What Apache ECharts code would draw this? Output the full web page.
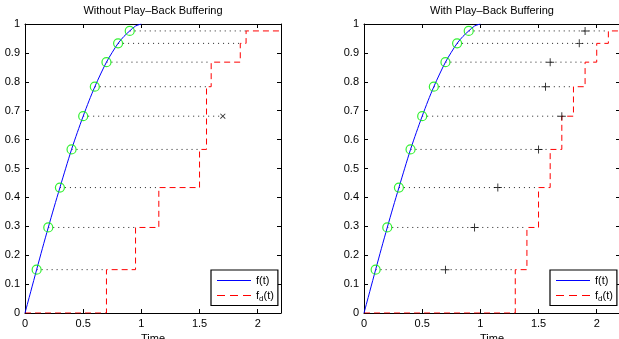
<!DOCTYPE html>
<html>
<head>
<meta charset="utf-8">
<script src="https://cdn.jsdelivr.net/npm/echarts@6/dist/echarts.min.js"></script>
<style>
  html, body { margin: 0; padding: 0; background: #fff; }
  #chart { width: 619px; height: 339px; }
</style>
</head>
<body>
<div id="chart"></div>
<script>
// tick positions
const xTicks = [0, 0.5, 1, 1.5, 2]
const yTicks = [0, 0.1, 0.2, 0.3, 0.4, 0.5, 0.6, 0.7, 0.8, 0.9, 1]

// f(t)
const curveT = [0, 0.05, 0.1, 0.15, 0.2, 0.25, 0.3, 0.35, 0.4, 0.45, 0.5, 0.55, 0.6, 0.65, 0.7, 0.75, 0.8, 0.85, 0.9, 0.95, 1]
const curveF = [0, 0.075, 0.150, 0.224, 0.296, 0.366, 0.434, 0.501, 0.566, 0.625, 0.681, 0.734, 0.783, 0.827, 0.868, 0.902, 0.933, 0.957, 0.976, 0.993, 1]

// sampled packets (green circles)
const sampleT = [0.1, 0.2, 0.3, 0.4, 0.5, 0.6, 0.7, 0.8, 0.9]
const sampleF = [0.150, 0.296, 0.434, 0.566, 0.681, 0.783, 0.868, 0.933, 0.976]

// arrival times (x / + markers)
const arrivalT = [0.70, 0.95, 1.15, 1.50, 1.70, 1.56, 1.60, 1.85, 1.90]

// play-out times of f_d(t)
const playNoBuf = [0.70, 0.95, 1.15, 1.50, 1.56, 1.56, 1.60, 1.85, 1.90]
const playBuf = [1.30, 1.40, 1.50, 1.60, 1.70, 1.80, 1.90, 2.00, 2.10]

// late packet without buffering
const lateT = [1.70]
const lateF = [0.681]

const titles = ['Without Play\u2013Back Buffering', 'With Play\u2013Back Buffering']
const tEnd = 2.2

const FONT = 'Liberation Sans, Arial, sans-serif'
const plusPath = 'path://M0,4.4H10V5.6H0Z M4.4,0H5.6V10H4.4Z'
const solidIcon = 'path://M0,0H34V1H0Z'
const dashIcon = 'path://M0,0H8V1H0Z M13,0H21V1H13Z M26,0H34V1H26Z'
const BLUE = '#0000ff'
const RED = '#ff0000'

const grids = [
  { left: 25, top: 24, width: 256, height: 289, outerBoundsMode: 'none' },
  { left: 364, top: 24, width: 256, height: 289, outerBoundsMode: 'none' },
]

function stepData(play) {
  const pts = [[0, 0]]
  let prev = 0
  play.forEach((p, i) => {
    pts.push([p, prev])
    pts.push([p, sampleF[i]])
    prev = sampleF[i]
  })
  pts.push([tEnd, prev])
  return pts
}

const xAxis = []
const yAxis = []
const series = []
const legend = []

grids.forEach((g, gi) => {
  xAxis.push({
    gridIndex: gi, type: 'value', min: 0, max: tEnd, position: 'bottom',
    axisLine: { show: true, onZero: false, lineStyle: { color: '#000', width: 1 } },
    axisTick: { show: true, inside: true, length: 4, customValues: xTicks, lineStyle: { color: '#000' } },
    axisLabel: { customValues: xTicks, color: '#000', fontSize: 11, fontFamily: FONT, margin: 5, formatter: v => String(v) },
    splitLine: { show: false },
    name: 'Time', nameLocation: 'middle', nameGap: 18,
    nameTextStyle: { color: '#000', fontSize: 11, fontFamily: FONT },
  })
  xAxis.push({
    gridIndex: gi, type: 'value', min: 0, max: tEnd, position: 'top',
    axisLine: { show: true, onZero: false, lineStyle: { color: '#000', width: 1 } },
    axisTick: { show: true, inside: true, length: 4, customValues: xTicks, lineStyle: { color: '#000' } },
    axisLabel: { show: false },
    splitLine: { show: false },
  })
  yAxis.push({
    gridIndex: gi, type: 'value', min: 0, max: 1, position: 'left',
    axisLine: { show: true, onZero: false, lineStyle: { color: '#000', width: 1 } },
    axisTick: { show: true, inside: true, length: 4, customValues: yTicks, lineStyle: { color: '#000' } },
    axisLabel: { customValues: yTicks, color: '#000', fontSize: 11, fontFamily: FONT, margin: 5, formatter: v => String(+v.toFixed(1)) },
    splitLine: { show: false },
  })
  yAxis.push({
    gridIndex: gi, type: 'value', min: 0, max: 1, position: 'right',
    axisLine: { show: true, onZero: false, lineStyle: { color: '#000', width: 1 } },
    axisTick: { show: true, inside: true, length: 4, customValues: yTicks, lineStyle: { color: '#000' } },
    axisLabel: { show: false },
    splitLine: { show: false },
  })

  const xi = gi * 2
  const yi = gi * 2
  const play = gi === 0 ? playNoBuf : playBuf

  // dotted guides from each sample to its arrival / play-out
  sampleF.forEach((f, i) => {
    series.push({
      type: 'line', name: 'guide', xAxisIndex: xi, yAxisIndex: yi,
      data: [[sampleT[i], f], [Math.max(arrivalT[i], play[i]), f]],
      symbol: 'none', silent: true, z: 1,
      lineStyle: { color: '#222', width: 1, type: [1, 4] },
    })
  })

  series.push({
    type: 'line', name: 'f(t)', xAxisIndex: xi, yAxisIndex: yi,
    data: curveT.map((t, i) => [t, curveF[i]]),
    symbol: 'none', smooth: 0.3, z: 3,
    lineStyle: { color: BLUE, width: 1 },
    itemStyle: { color: BLUE },
  })

  series.push({
    type: 'line', name: 'fd(t)', xAxisIndex: xi, yAxisIndex: yi,
    data: stepData(play),
    symbol: 'none', z: 2,
    lineStyle: { color: RED, width: 1, type: [6, 4] },
    itemStyle: { color: RED },
  })

  series.push({
    type: 'scatter', name: 'samples', xAxisIndex: xi, yAxisIndex: yi,
    data: sampleT.map((t, i) => [t, sampleF[i]]),
    symbol: 'circle', symbolSize: 9, z: 4,
    itemStyle: { color: 'rgba(0,0,0,0)', borderColor: '#00ee00', borderWidth: 1.2 },
  })

  if (gi === 0) {
    series.push({
      type: 'scatter', name: 'late', xAxisIndex: xi, yAxisIndex: yi,
      data: lateT.map((t, i) => [t, lateF[i]]),
      symbol: plusPath, symbolSize: 7, symbolRotate: 45, z: 5,
      itemStyle: { color: '#000' },
    })
  } else {
    series.push({
      type: 'scatter', name: 'arrivals', xAxisIndex: xi, yAxisIndex: yi,
      data: arrivalT.map((t, i) => [t, sampleF[i]]),
      symbol: plusPath, symbolSize: 8, z: 5,
      itemStyle: { color: '#000' },
    })
  }

  legend.push({
    data: [
      { name: 'f(t)', icon: solidIcon, itemStyle: { color: BLUE, borderWidth: 0 } },
      { name: 'fd(t)', icon: dashIcon, itemStyle: { color: RED, borderWidth: 0 } },
    ],
    orient: 'vertical',
    left: g.left + 186, top: 270,
    borderColor: '#000', borderWidth: 1.2, backgroundColor: '#fff',
    padding: [5, 4, 3, 6],
    itemWidth: 34, itemHeight: 1.2, itemGap: 4,
    selectedMode: false,
    textStyle: {
      color: '#000', fontSize: 11, fontFamily: FONT,
      rich: {
        n: { fontSize: 11, fontFamily: FONT, color: '#000' },
        s: { fontSize: 8, fontFamily: FONT, color: '#000', padding: [6, 0, 0, 0] },
      },
    },
    formatter: name => name === 'fd(t)' ? '{n|f}{s|d}{n|(t)}' : '{n|f(t)}',
  })
})

const chart = echarts.init(document.getElementById('chart'), null, { renderer: 'canvas' })
chart.setOption({
  animation: false,
  backgroundColor: '#fff',
  title: titles.map((t, i) => ({
    text: t,
    left: grids[i].left + grids[i].width / 2,
    top: 5,
    textAlign: 'center',
    padding: 0,
    textStyle: { color: '#000', fontSize: 11, fontWeight: 'normal', fontFamily: FONT },
  })),
  grid: grids,
  xAxis,
  yAxis,
  legend,
  series,
})
</script>
</body>
</html>
